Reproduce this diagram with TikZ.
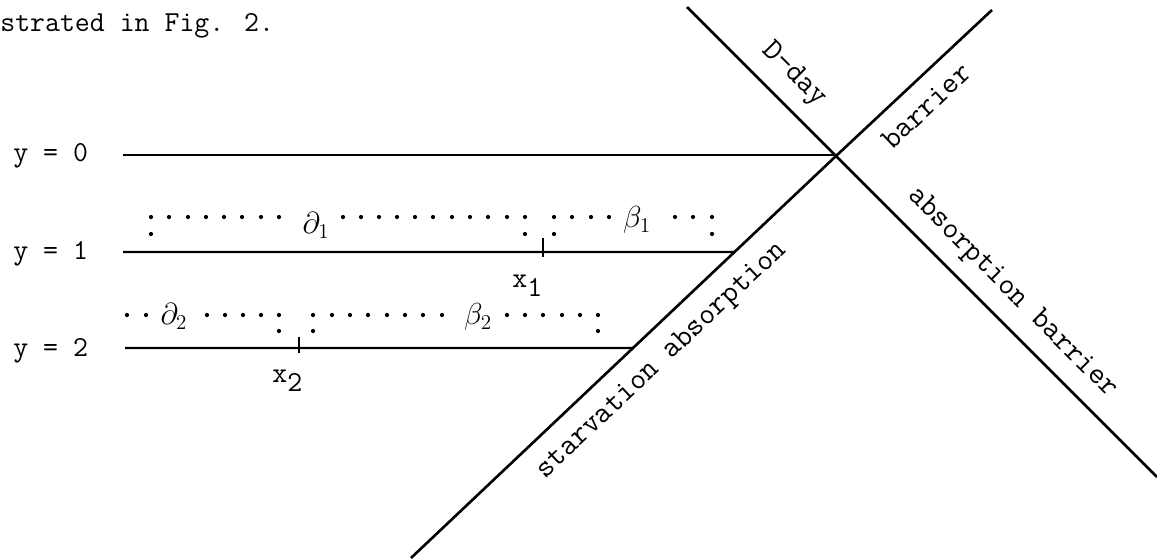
\documentclass[tikz,border=0pt]{standalone}
\usepackage{amsmath}
\usepackage{tikz}
\usetikzlibrary{calc}

\begin{document}
\begin{tikzpicture}[
        x=0.02cm, y=-0.02cm,
        every node/.style={font=\ttfamily\fontsize{16.5}{20}\selectfont, inner sep=0pt},
        level/.style={draw=black, line width=1.4pt},
        barrierline/.style={draw=black, line width=1.5pt},
        slanted/.style={font=\ttfamily\fontsize{17.5}{21}\selectfont}
    ]

    \useasboundingbox (0,0) rectangle (1157,560);

    \node[anchor=base west] (intro) at (0,32) {strated in Fig. 2.};

    \coordinate (X)  at (836,156);
    \coordinate (DT) at (687,7);
    \coordinate (DB) at (1157,477);
    \coordinate (ST) at (992,10);
    \coordinate (SB) at (411,558);

    \draw[barrierline] (DT) -- (X) -- (DB);
    \draw[barrierline] (ST) -- (X) -- (SB);

    \coordinate (L0) at (123,155);
    \coordinate (L1) at (123,252);
    \coordinate (L2) at (125,348);
    \coordinate (R1) at (L1 -| X);
    \coordinate (R2) at (L2 -| X);
    \coordinate (E1) at (intersection of L1--R1 and SB--X);
    \coordinate (E2) at (intersection of L2--R2 and SB--X);

    \draw[level] (L0) -- (L0 -| X);
    \draw[level] (L1) -- (E1);
    \draw[level] (L2) -- (E2);

    \foreach \k/\yy in {0/162,1/260,2/357}
        \node[anchor=base west] (ylab\k) at (13,\yy) {y = \k};

    \coordinate (T1) at (543,252);
    \coordinate (T2) at (299,348);
    \draw[level] ($(T1)+(0,-14)$) -- ($(T1)+(0,5)$);
    \draw[level] ($(T2)+(0,-11)$) -- ($(T2)+(0,5)$);

    \node[anchor=base west] (x1) at (512,288) {x\raisebox{-0.3em}{1}};
    \node[anchor=base west] (x2) at (272,383) {x\raisebox{-0.3em}{2}};

    \foreach \xx in {151,169,188,206,224,242,261,279,
                     343,361,379,397,415,433,452,470,488,507,525,
                     554,572,591,609,675,693,712}
        \fill (\xx,217) circle (1.2pt);
    \foreach \xx in {151,525,554,712}
        \fill (\xx,234) circle (1.2pt);

    \foreach \xx in {127,146,207,225,243,261,279,
                     313,332,350,368,387,405,423,442,
                     507,525,543,562,580,598}
        \fill (\xx,315) circle (1.2pt);
    \foreach \xx in {279,313,598}
        \fill (\xx,331) circle (1.2pt);

    \node[anchor=base] (a1) at (316,234) {$\partial_{1}$};
    \node[anchor=base] (b1) at (637,228) {$\beta_{1}$};
    \node[anchor=base] (a2) at (174,325) {$\partial_{2}$};
    \node[anchor=base] (b2) at (478,325) {$\beta_{2}$};

    \node[slanted, rotate=-45]  (dday)   at (794,75)   {D-day};
    \node[slanted, rotate=43.3] (bar)    at (926,106)  {barrier};
    \node[slanted, rotate=-45]  (absbar) at (1012,293) {absorption barrier};
    \node[slanted, rotate=43.3] (starv)  at (662,361)  {starvation absorption};

\end{tikzpicture}
\end{document}
